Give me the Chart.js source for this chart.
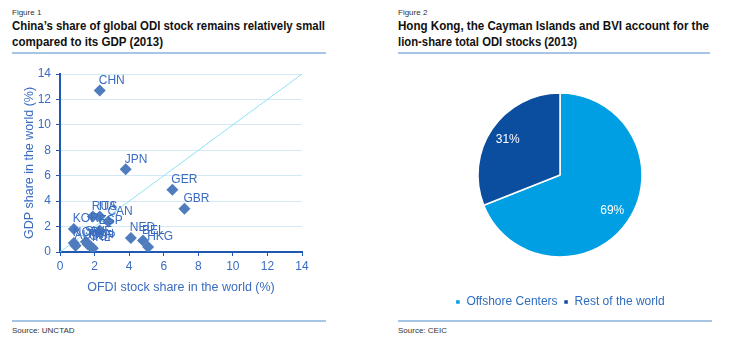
<!DOCTYPE html>
<html>
<head>
<meta charset="utf-8">
<script src="https://cdn.jsdelivr.net/npm/chart.js@4/dist/chart.umd.min.js"></script>
<style>
  html, body { margin:0; padding:0; background:#fff; }
  body { width:730px; height:356px; position:relative; overflow:hidden; font-family:"Liberation Sans", Arial, sans-serif; }
  .fig { position:absolute; font-size:8px; color:#333; }
  .title { position:absolute; font-weight:bold; font-size:12px; color:#111; white-space:nowrap; transform-origin:left center; line-height:14px; }
  .rule { position:absolute; height:2px; background:#a9c5e6; }
  .src { position:absolute; font-size:8px; color:#333; }
  canvas { position:absolute; }
</style>
</head>
<body>
<div class="fig" style="left:12px; top:8px;">Figure 1</div>
<div class="title fit" data-w="313" style="left:12px; top:19px;">China’s share of global ODI stock remains relatively small</div>
<div class="title fit" data-w="151" style="left:12px; top:35px;">compared to its GDP (2013)</div>
<div class="rule" style="left:12px; top:52px; width:314px;"></div>

<div class="fig" style="left:398px; top:8px;">Figure 2</div>
<div class="title fit" data-w="311" style="left:398px; top:19px;">Hong Kong, the Cayman Islands and BVI account for the</div>
<div class="title fit" data-w="179" style="left:398px; top:35px;">lion-share total ODI stocks (2013)</div>
<div class="rule" style="left:398px; top:52px; width:312px;"></div>

<div style="position:absolute; left:0; top:60px; width:330px; height:235px;"><canvas id="scatter"></canvas></div>
<div style="position:absolute; left:400px; top:60px; width:320px; height:258px;"><canvas id="pie"></canvas></div>

<div class="rule" style="left:12px; top:320px; width:314px;"></div>
<div class="src" style="left:12px; top:326px;">Source: UNCTAD</div>
<div class="rule" style="left:398px; top:320px; width:314px;"></div>
<div class="src" style="left:398px; top:326px;">Source: CEIC</div>

<script>
// ---------- Figure 1 data ----------
const countries = ['CHN','JPN','GER','GBR','NED','BEL','HKG','RUS','ITA','CAN','ESP','KOR','SWE','TWN','NOR','AUT','IRL','SGP'];
const odiShare  = [2.3, 3.8, 6.5, 7.2, 4.1, 4.8, 5.1, 1.9, 2.3, 2.8, 2.3, 0.8, 1.5, 1.6, 0.8, 0.9, 1.9, 1.8];
const gdpShare  = [12.7, 6.5, 4.9, 3.4, 1.1, 0.9, 0.4, 2.8, 2.8, 2.4, 1.7, 1.8, 0.8, 0.6, 0.7, 0.5, 0.3, 0.4];
const diagonalX = [0, 14];
const diagonalY = [0, 14];
const axisTicks = [0, 2, 4, 6, 8, 10, 12, 14];

// ---------- Figure 2 data ----------
const pieLabels = ['Offshore Centers', 'Rest of the world'];
const pieValues = [69, 31];

// fit title lines
document.querySelectorAll('.fit').forEach(el => {
  const w = el.getBoundingClientRect().width;
  const target = parseFloat(el.dataset.w);
  el.style.transform = 'scaleX(' + (target / w) + ')';
});

const BLUE_TXT = '#3a6cc0';
const AXIS = '#1f58b0';
Chart.defaults.font.family = '"Liberation Sans", Arial, sans-serif';

const pointLabels = {
  id: 'pointLabels',
  afterDatasetsDraw(chart) {
    const ctx = chart.ctx;
    const meta = chart.getDatasetMeta(1);
    ctx.save();
    ctx.font = '12px "Liberation Sans", Arial, sans-serif';
    ctx.fillStyle = BLUE_TXT;
    ctx.textAlign = 'left';
    ctx.textBaseline = 'middle';
    meta.data.forEach((el, i) => {
      ctx.fillText(countries[i], el.x - 1, el.y - 10);
    });
    ctx.restore();
  }
};

new Chart(document.getElementById('scatter'), {
  type: 'scatter',
  data: {
    datasets: [
      {
        type: 'line',
        data: diagonalX.map((x, i) => ({x, y: diagonalY[i]})),
        borderColor: '#8fe2f2',
        borderWidth: 1,
        pointRadius: 0,
        order: 2
      },
      {
        data: odiShare.map((x, i) => ({x, y: gdpShare[i]})),
        pointStyle: 'rectRot',
        pointRadius: 6,
        backgroundColor: '#4f7cbc',
        borderColor: '#4f7cbc',
        borderWidth: 0,
        order: 1
      }
    ]
  },
  options: {
    responsive: true,
    maintainAspectRatio: false,
    animation: false,
    layout: { padding: { left: 18, top: 14, right: 28, bottom: 0 } },
    plugins: { legend: { display: false }, tooltip: { enabled: false } },
    scales: {
      x: {
        type: 'linear', min: 0, max: 14,
        afterBuildTicks: s => { s.ticks = axisTicks.map(v => ({value: v})); },
        afterFit: s => { s.height = 43; },
        grid: { drawOnChartArea: false, tickLength: 4, tickColor: AXIS },
        border: { color: AXIS, width: 2 },
        ticks: { color: BLUE_TXT, font: { size: 12 }, padding: 3, maxRotation: 0 },
        title: { display: true, text: 'OFDI stock share in the world (%)', color: BLUE_TXT, font: { size: 12.5 }, padding: { top: 3, bottom: 0 } }
      },
      y: {
        type: 'linear', min: 0, max: 14,
        afterBuildTicks: s => { s.ticks = axisTicks.map(v => ({value: v})); },
        afterFit: s => { s.width = 42; },
        grid: { color: '#d4e9f6', lineWidth: 1, tickLength: 4, tickColor: AXIS },
        border: { color: AXIS, width: 2 },
        ticks: { color: BLUE_TXT, font: { size: 12 }, padding: 5 },
        title: { display: true, text: 'GDP share in the world (%)', color: BLUE_TXT, font: { size: 12.5 }, padding: { top: 4, bottom: 0 } }
      }
    }
  },
  plugins: [pointLabels]
});

const pieLabelsPlugin = {
  id: 'pieLabels',
  afterDatasetsDraw(chart) {
    const ctx = chart.ctx;
    const meta = chart.getDatasetMeta(0);
    const total = pieValues.reduce((a, b) => a + b, 0);
    ctx.save();
    ctx.font = '12px "Liberation Sans", Arial, sans-serif';
    ctx.fillStyle = '#ffffff';
    ctx.textAlign = 'center';
    ctx.textBaseline = 'middle';
    meta.data.forEach((arc, i) => {
      const p = arc.getProps(['x','y','startAngle','endAngle','outerRadius'], true);
      const mid = (p.startAngle + p.endAngle) / 2;
      const r = p.outerRadius * 0.77;
      ctx.fillText(Math.round(pieValues[i] / total * 100) + '%', p.x + Math.cos(mid) * r, p.y + Math.sin(mid) * r);
    });
    ctx.restore();
  }
};

new Chart(document.getElementById('pie'), {
  type: 'pie',
  data: {
    labels: pieLabels,
    datasets: [{
      data: pieValues,
      backgroundColor: ['#009fe3', '#0b4d9f'],
      borderColor: '#ffffff',
      borderWidth: 1.5,
      radius: 82
    }]
  },
  options: {
    responsive: true,
    maintainAspectRatio: false,
    animation: false,
    layout: { padding: 0 },
    plugins: {
      tooltip: { enabled: false },
      legend: {
        position: 'bottom',
        labels: { boxWidth: 5, boxHeight: 5, padding: 6, color: '#2f6dbf', font: { size: 12 } }
      }
    }
  },
  plugins: [pieLabelsPlugin]
});
</script>
</body>
</html>
